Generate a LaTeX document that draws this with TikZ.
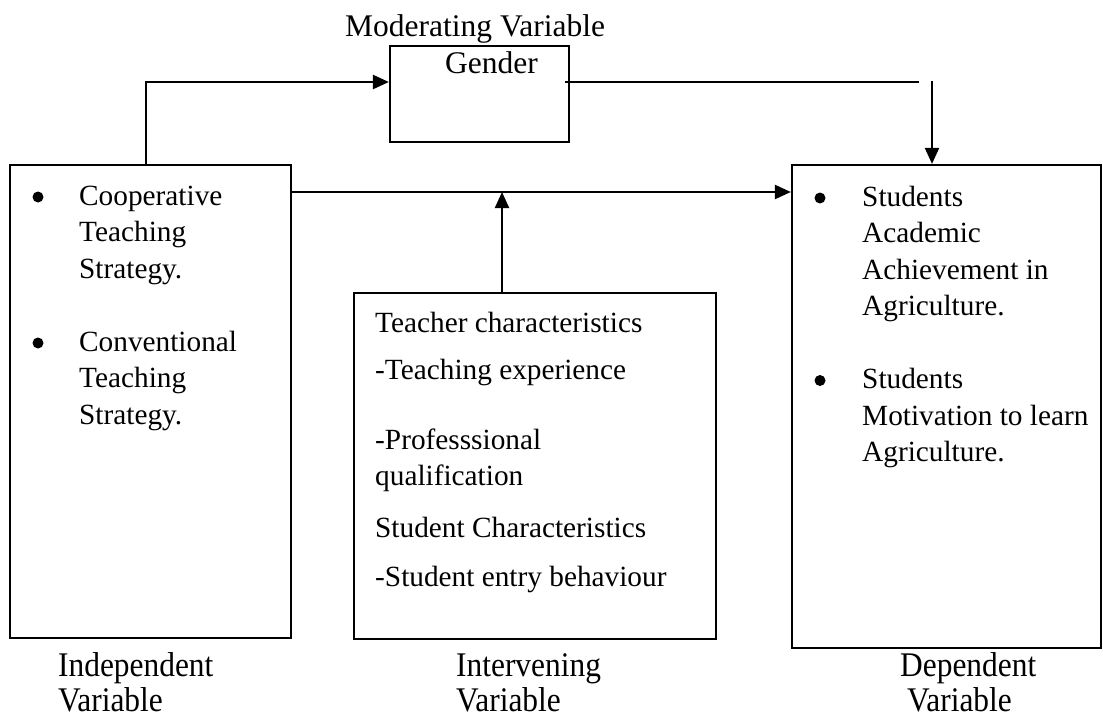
\documentclass[tikz,border=0pt]{standalone}
\usepackage{fontspec}
\setmainfont{Liberation Serif}
\usetikzlibrary{arrows.meta}
\begin{document}
\begin{tikzpicture}[x=1pt,y=-1pt,
  box/.style={draw,line width=2.2pt,rectangle,inner sep=0pt},
  arr/.style={line width=2.2pt,-{Triangle[length=16pt,width=14pt]}},
  conn/.style={line width=2.2pt},
  txt/.style={anchor=base west,inner sep=0pt,font=\fontsize{29.3}{35}\selectfont},
  lbl/.style={anchor=base west,inner sep=0pt,font=\fontsize{31.5}{36}\selectfont},
  bot/.style={anchor=base west,inner sep=0pt,font=\fontsize{31.4}{36}\selectfont},
  dot/.style={circle,fill,inner sep=0pt,minimum size=11pt}]
\useasboundingbox (0,0) rectangle (1103,717);
\fill[white] (0,0) rectangle (1103,717);

% boxes
\node[box,minimum width=281pt,minimum height=473pt] (indep) at (150.5,401.5) {};
\node[box,minimum width=179pt,minimum height=96pt] (gender) at (479.5,94) {};
\node[box,minimum width=362pt,minimum height=346pt] (interv) at (535,466) {};
\node[box,minimum width=309pt,minimum height=483pt] (dep) at (946.5,406.5) {};

% top labels
\node[lbl] (modlbl) at (345,37) {Moderating Variable};
\node[lbl,anchor=base] (gtxt) at (491.5,74) {Gender};

% left box text
\node[dot] (b1) at (38,197) {};
\node[txt] (l1) at (79,205) {Cooperative};
\node[txt] (l2) at (79,241.5) {Teaching};
\node[txt] (l3) at (79,278) {Strategy.};
\node[dot] (b2) at (38,343) {};
\node[txt] (l4) at (79,351) {Conventional};
\node[txt] (l5) at (79,387.5) {Teaching};
\node[txt] (l6) at (79,424) {Strategy.};

% middle box text
\node[txt] (m1) at (375,332) {Teacher characteristics};
\node[txt] (m2) at (375,379) {-Teaching experience};
\node[txt] (m3) at (375,449) {-Professsional};
\node[txt] (m4) at (375,485) {qualification};
\node[txt] (m5) at (375,537) {Student Characteristics};
\node[txt] (m6) at (375,586) {-Student entry behaviour};

% right box text
\node[dot] (b3) at (820,198) {};
\node[txt] (r1) at (862,206) {Students};
\node[txt] (r2) at (862,242.5) {Academic};
\node[txt] (r3) at (862,279) {Achievement in};
\node[txt] (r4) at (862,315.5) {Agriculture.};
\node[dot] (b4) at (820,380.5) {};
\node[txt] (r5) at (862,388.5) {Students};
\node[txt] (r6) at (862,425) {Motivation to learn};
\node[txt] (r7) at (862,461.5) {Agriculture.};

% bottom labels
\node[bot] (iv1) at (58,676) {\scalebox{1}[1.1]{Independent}};
\node[bot] (iv2) at (58,711) {\scalebox{1}[1.1]{Variable}};
\node[bot] (nv1) at (456,676) {\scalebox{1}[1.1]{Intervening}};
\node[bot] (nv2) at (456,711) {\scalebox{1}[1.1]{Variable}};
\node[bot] (dv1) at (900,676) {\scalebox{1}[1.1]{Dependent}};
\node[bot] (dv2) at (907,711) {\scalebox{1}[1.1]{Variable}};

% connectors
\coordinate (k1) at (146,82);
\draw[arr] (indep.north -| k1) -- (k1) -- (gender.west |- k1);
\coordinate (k2) at (919,82);
\coordinate (k2s) at (565,82);
\draw[conn] (k2s) -- (k2);
\coordinate (k3) at (932,81);
\draw[arr] (k3) -- (dep.north -| k3);
\coordinate (k4) at (0,192);
\draw[arr] (indep.east |- k4) -- (dep.west |- k4);
\coordinate (k5) at (502,192);
\draw[arr] (interv.north -| k5) -- (k5);
\end{tikzpicture}
\end{document}
